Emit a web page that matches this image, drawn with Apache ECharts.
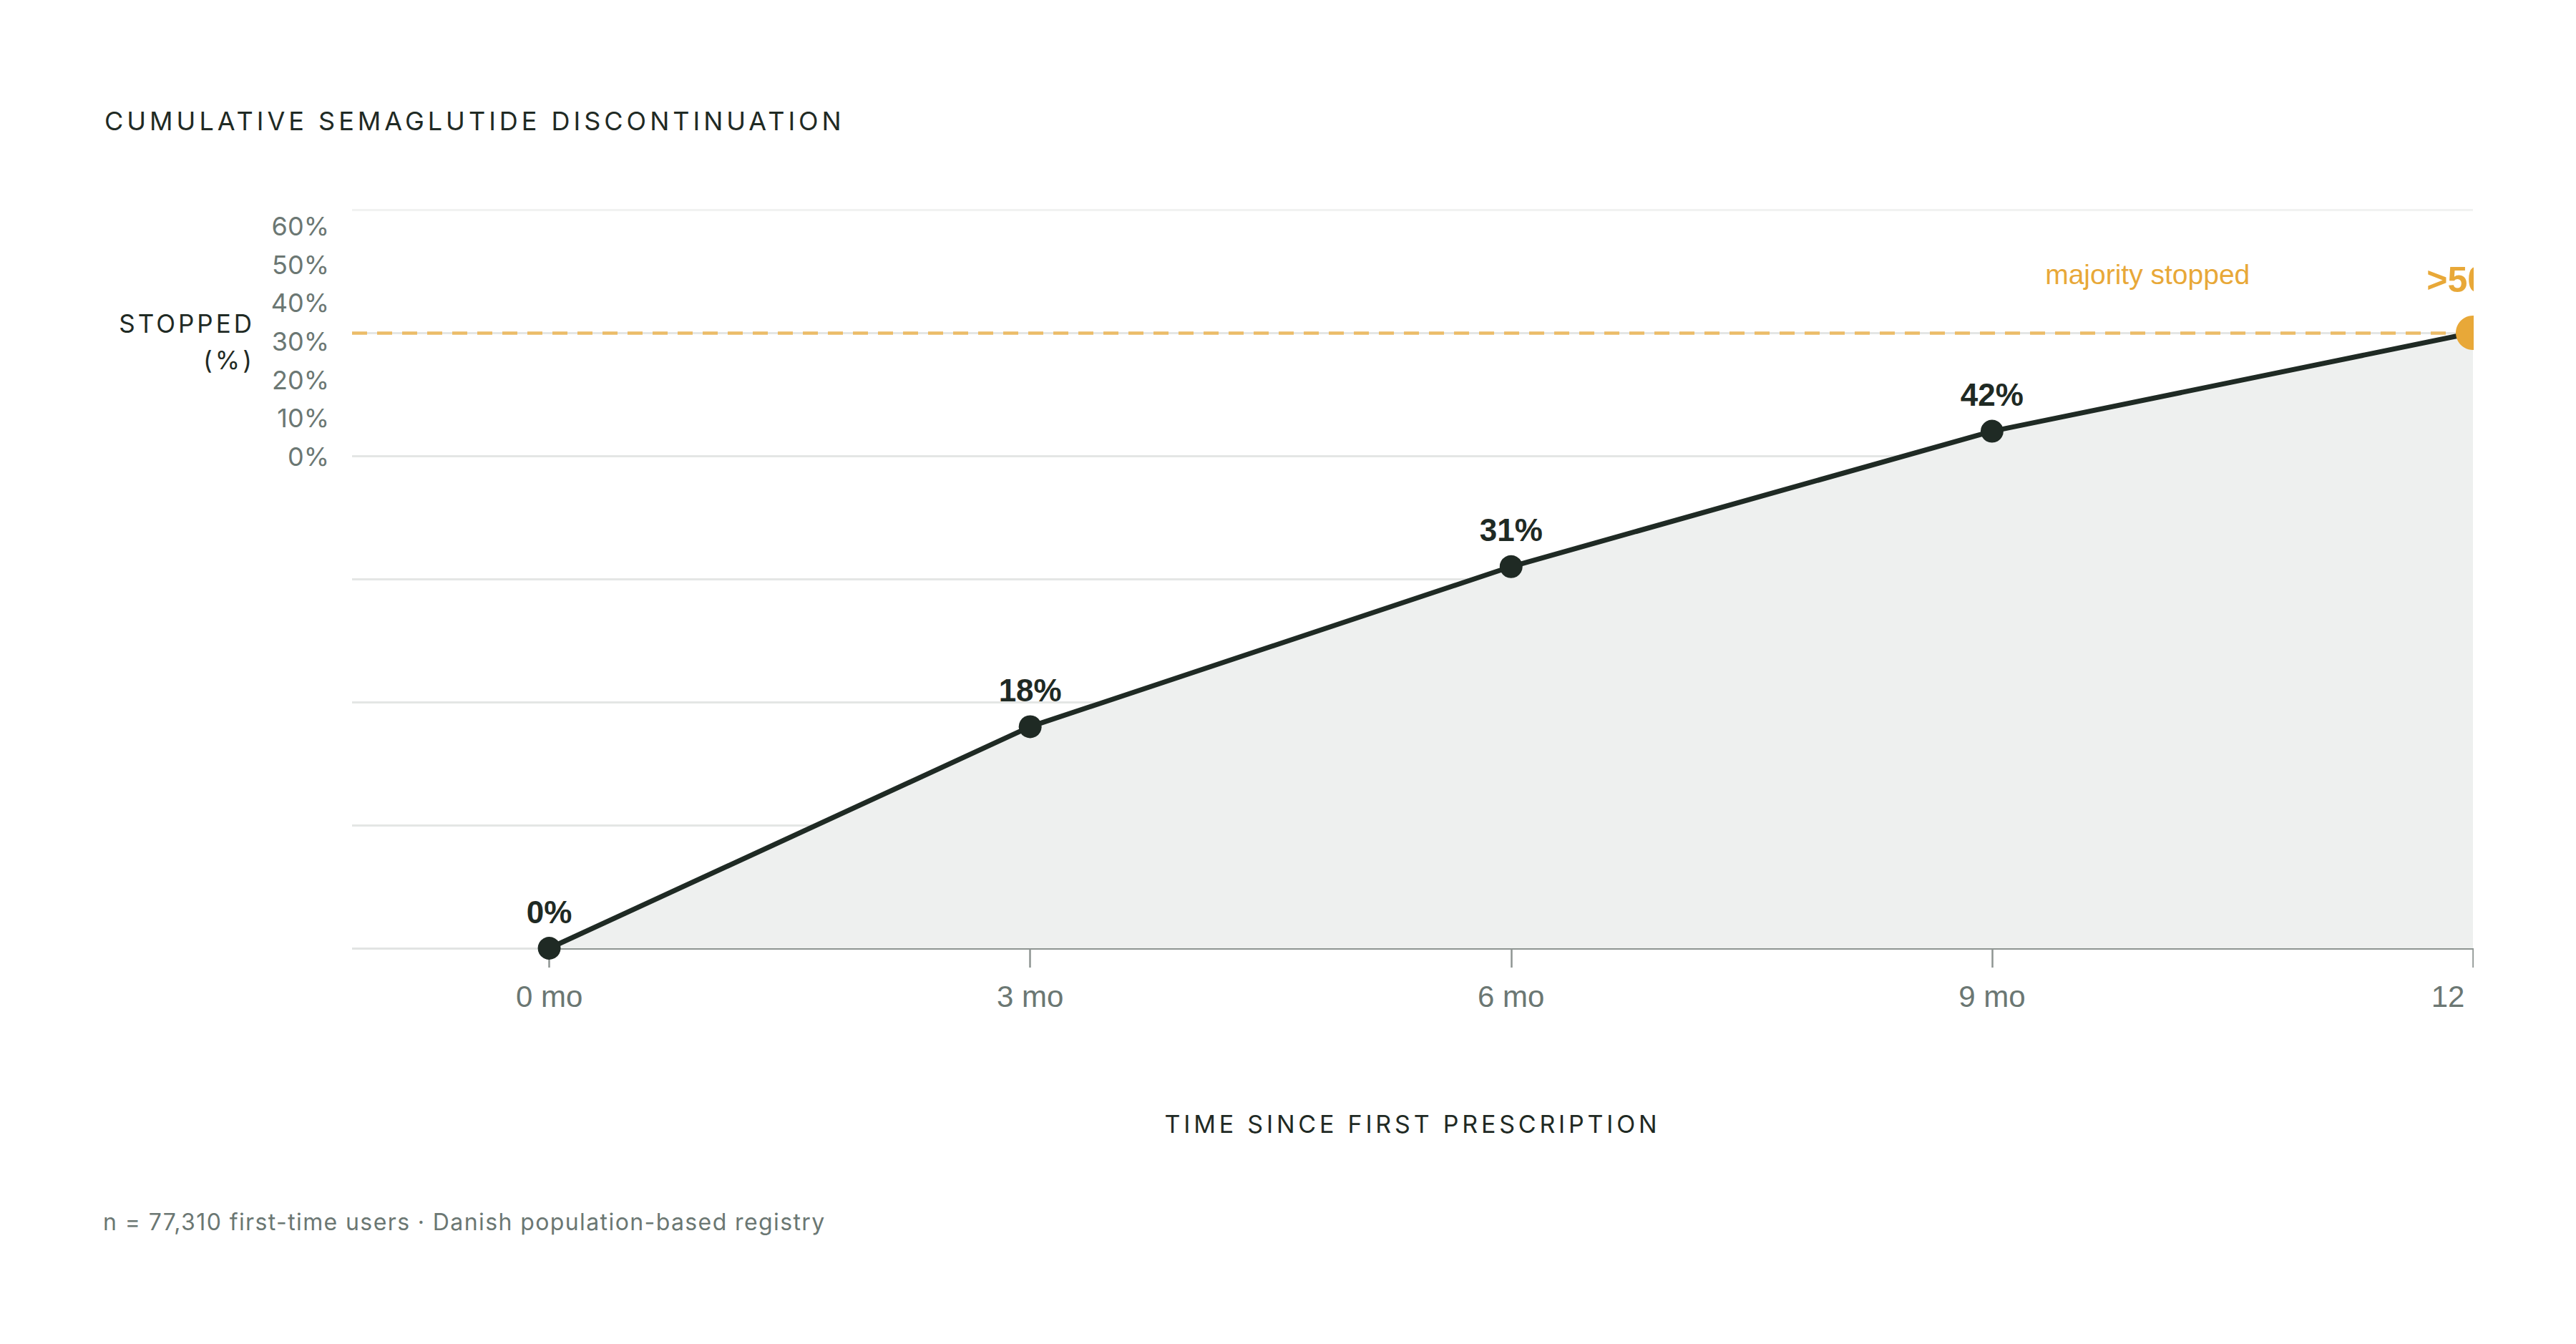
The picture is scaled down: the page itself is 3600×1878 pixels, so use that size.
<!DOCTYPE html>
<html>
<head>
<meta charset="utf-8">
<script src="https://cdn.jsdelivr.net/npm/echarts@6/dist/echarts.min.js"></script>
<style>
  html, body { margin: 0; padding: 0; background: #ffffff; }
  #clip { width: 3457px; height: 1878px; overflow: hidden; position: relative; }
  #chart { width: 3600px; height: 1878px; }
</style>
</head>
<body>
<div id="clip"><div id="chart"></div></div>
<script>
// ---- data ----
const chartTitle = 'CUMULATIVE SEMAGLUTIDE DISCONTINUATION';
const footnote = 'n = 77,310 first-time users · Danish population-based registry';
const xAxisName = 'TIME SINCE FIRST PRESCRIPTION';
const yAxisName = 'STOPPED\n(%)';
const months = [0, 3, 6, 9, 12];
const monthLabels = ['0 mo', '3 mo', '6 mo', '9 mo', '12 mo'];
const stopped = [0, 18, 31, 42, 50];
const pointLabels = ['0%', '18%', '31%', '42%', '>50%'];
const yTickValues = [0, 10, 20, 30, 40, 50, 60];
const majorityLevel = 50;
const majorityText = 'majority stopped';
const majorityTextMonth = 9.97;
const xMin = -1.23;
const xMax = 12;

// ---- style ----
const DARK = '#1f2a24';
const GREY = '#6b7773';
const ORANGE = '#e8a838';
const SANS = 'Inter, "Noto Sans", sans-serif';
const ARIAL = '"Liberation Sans", Arial, sans-serif';

// letter spacing (applied to the rendered SVG text)
const spacedTexts = {};
spacedTexts[chartTitle] = '5px';
spacedTexts[xAxisName] = '4.8px';
yAxisName.split('\n').forEach(t => { spacedTexts[t] = '4px'; });
spacedTexts[footnote] = '1.4px';

const chart = echarts.init(document.getElementById('chart'), null, { renderer: 'svg' });

const lastIdx = months.length - 1;
const lineData = months.map((m, i) => {
  const item = { value: [m, stopped[i]] };
  if (i === lastIdx) {
    item.symbolSize = 48;
    item.itemStyle = { color: ORANGE };
    item.label = { color: ORANGE, fontSize: 50, distance: 25 };
  }
  return item;
});

const option = {
  backgroundColor: '#ffffff',
  animation: false,
  title: [
    {
      text: chartTitle,
      left: 141,
      top: 146,
      textStyle: { fontFamily: SANS, fontSize: 36, fontWeight: 'normal', color: DARK }
    },
    {
      text: footnote,
      left: 139,
      top: 1686,
      textStyle: { fontFamily: SANS, fontSize: 32, fontWeight: 'normal', color: GREY }
    }
  ],
  grid: [
    { left: 492, right: 144, top: 293, bottom: 553, containLabel: false },
    { left: 480, width: 10, top: 316, height: 322, containLabel: false }
  ],
  xAxis: [
    {
      type: 'value',
      gridIndex: 0,
      min: xMin,
      max: xMax,
      axisLine: { show: false },
      splitLine: { show: false },
      axisTick: {
        show: true,
        customValues: months,
        length: 27,
        lineStyle: { color: '#8e9592', width: 2.5 }
      },
      axisLabel: {
        show: true,
        customValues: months,
        formatter: (v) => monthLabels[months.indexOf(v)] || '',
        fontFamily: ARIAL,
        fontSize: 42,
        color: GREY,
        margin: 46
      },
      name: xAxisName,
      nameLocation: 'middle',
      nameGap: 228,
      nameTextStyle: { fontFamily: SANS, fontSize: 34, color: DARK }
    },
    { type: 'value', gridIndex: 1, show: false, min: 0, max: 1 }
  ],
  yAxis: [
    {
      type: 'value',
      gridIndex: 0,
      min: 0,
      max: 60,
      interval: 10,
      axisLabel: { show: false },
      axisLine: { show: false },
      axisTick: { show: false },
      splitLine: {
        show: true,
        lineStyle: { color: ['#e2e4e3', '#e4e6e5', '#e4e6e5', '#e4e6e5', '#e4e6e5', '#e4e6e5', '#f1f2f1'], width: 3 }
      }
    },
    {
      type: 'value',
      gridIndex: 1,
      min: 0,
      max: 60,
      interval: 10,
      axisLine: { show: false },
      axisTick: { show: false },
      splitLine: { show: false },
      axisLabel: {
        show: true,
        customValues: yTickValues,
        formatter: '{value}%',
        fontFamily: SANS,
        fontSize: 36,
        color: GREY,
        margin: 20
      },
      name: yAxisName,
      nameLocation: 'middle',
      nameRotate: 0,
      nameGap: 124,
      nameTextStyle: { fontFamily: SANS, fontSize: 35, color: DARK, lineHeight: 51, align: 'right' }
    }
  ],
  series: [
    {
      type: 'line',
      xAxisIndex: 0,
      yAxisIndex: 0,
      data: lineData,
      symbol: 'circle',
      symbolSize: 32,
      showAllSymbol: true,
      lineStyle: { color: DARK, width: 7 },
      itemStyle: { color: DARK },
      areaStyle: { color: '#eef0ef', opacity: 1 },
      label: {
        show: true,
        position: 'top',
        distance: 13,
        formatter: (p) => pointLabels[p.dataIndex],
        fontFamily: ARIAL,
        fontWeight: 'bold',
        fontSize: 44,
        color: DARK
      },
      z: 5,
      markLine: {
        silent: true,
        symbol: ['none', 'none'],
        label: { show: false },
        animation: false,
        data: [
          { yAxis: majorityLevel, lineStyle: { color: '#ebbc68', width: 4.5, type: [21, 14] } },
          [
            { coord: [months[0], 0], lineStyle: { color: '#8e9592', width: 4, type: 'solid' } },
            { coord: [months[lastIdx], 0] }
          ]
        ]
      },
      markPoint: {
        silent: true,
        symbol: 'circle',
        symbolSize: 0,
        data: [{ coord: [majorityTextMonth, majorityLevel] }],
        label: {
          show: true,
          position: 'inside',
          offset: [0, -82],
          formatter: majorityText,
          fontFamily: ARIAL,
          fontSize: 39,
          color: ORANGE
        }
      }
    }
  ]
};

function applySpacing() {
  const texts = document.querySelectorAll('#chart svg text');
  texts.forEach(t => {
    const s = spacedTexts[t.textContent];
    if (s) t.style.letterSpacing = s;
  });
}

chart.on('finished', applySpacing);
chart.setOption(option);
applySpacing();
setTimeout(applySpacing, 50);
</script>
</body>
</html>
